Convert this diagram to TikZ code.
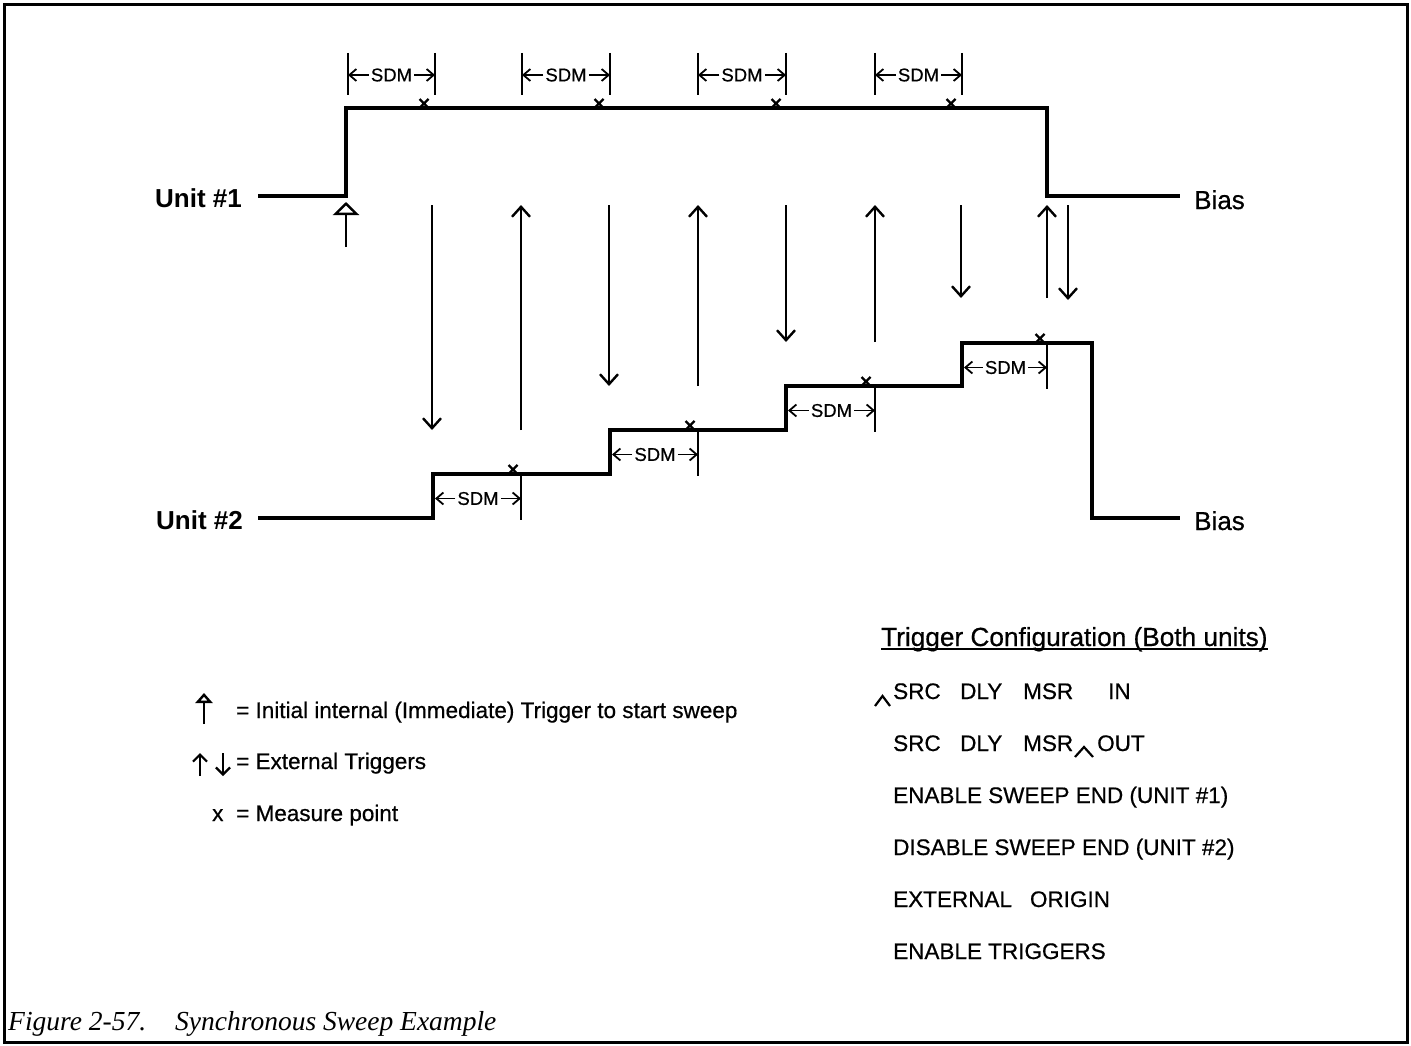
\documentclass[tikz,border=0pt]{standalone}
\usepackage{fontspec}
\setmainfont{Liberation Sans}
\newfontfamily\medfont{Liberation Sans}[FakeBold=0.6]
\newfontfamily\capfont{Liberation Serif}
\usetikzlibrary{arrows.meta}

\tikzset{
  wave/.style={line width=4pt, line join=miter},
  sdmbar/.style={line width=1.8pt},
  sdmarrow/.style={line width=1.8pt, -{Straight Barb[length=7pt,width=12pt]}},
  trig/.style={line width=2.4pt, -{Straight Barb[length=10pt,width=18pt]}},
  inittrig/.style={line width=2.4pt, -{Triangle[open,length=13pt,width=26pt]}},
  legtrig/.style={line width=2.2pt, -{Straight Barb[length=7pt,width=14pt]}},
  leginit/.style={line width=2.4pt, -{Triangle[open,length=10pt,width=17pt]}},
  xmark/.style={line width=2.2pt},
  sdmlabel/.style={font=\fontsize{18.5}{20}\selectfont\medfont, inner sep=2pt},
  unitlabel/.style={font=\fontsize{26}{30}\selectfont\bfseries, inner sep=0pt, anchor=base west},
  biaslabel/.style={font=\fontsize{26}{30}\selectfont\medfont, inner sep=0pt, anchor=base west},
  legtext/.style={font=\fontsize{22.5}{26}\selectfont\medfont, inner sep=0pt, anchor=base west},
  captext/.style={font=\fontsize{27.5}{30}\selectfont\capfont\itshape, inner sep=0pt, anchor=base west}
}

\begin{document}
\begin{tikzpicture}[x=1pt,y=-1pt]
    \useasboundingbox (0,0) rectangle (1411,1046);
    % frame
    \draw[line width=3pt] (4.5,4.5) rectangle (1407,1042);

    % Unit #1 and Unit #2 waveforms
    \node[unitlabel] (unit1) at (155,207) {Unit \#1};
    \node[unitlabel] (unit2) at (156,529) {Unit \#2};
    \node[biaslabel] (bias1) at (1194,209) {Bias};
    \node[biaslabel] (bias2) at (1194,530) {Bias};

    \draw[wave] (258,196) -- (346,196) -- (346,108) -- (1047,108) -- (1047,196) -- (1180,196);
    \draw[wave] (258,518) -- (433,518) -- (433,474) -- (610,474) -- (610,430)
        -- (786,430) -- (786,386) -- (962,386) -- (962,343) -- (1092,343)
        -- (1092,518) -- (1180,518);

    % SDM intervals on Unit #1
    \foreach [count=\i] \a/\b in {348/435, 522/610, 698/786, 875/962} {
        \draw[sdmbar] (\a,53) -- (\a,95);
        \draw[sdmbar] (\b,53) -- (\b,95);
        \node[sdmlabel] (sdmtop\i) at ({(\a+\b)/2},75) {SDM};
        \draw[sdmarrow] (sdmtop\i.west) -- (\a,75);
        \draw[sdmarrow] (sdmtop\i.east) -- (\b,75);
    }

    % SDM intervals on Unit #2
    \foreach [count=\i] \a/\b/\y in {435/521/474, 612/698/430, 788/875/386, 964/1047/343} {
        \draw[sdmbar] (\b,\y) -- (\b,\y+46);
        \node[sdmlabel] (sdmbot\i) at ({(\a+\b)/2},\y+24.5) {SDM};
        \draw[sdmarrow] (sdmbot\i.west) -- (\a,\y+24.5);
        \draw[sdmarrow] (sdmbot\i.east) -- (\b,\y+24.5);
    }

    % measure points
    \foreach \x/\y in {424/108, 599/108, 776/108, 951/108,
                       513/474, 690/430, 866/386, 1040/343}
        \draw[xmark] (\x-4.5,\y-9) -- (\x+4.5,\y) (\x-4.5,\y) -- (\x+4.5,\y-9);

    % initial trigger
    \coordinate (init0) at (346,247);
    \coordinate (init1) at (346,202);
    \draw[inittrig] (init0) -- (init1);

    % external triggers, Unit #1 to Unit #2
    \foreach [count=\i] \x/\y in {432/430, 609/386, 786/342, 961/298, 1068/300} {
        \coordinate (dntop\i) at (\x,205);
        \coordinate (dnbot\i) at (\x,\y);
        \draw[trig] (dntop\i) -- (dnbot\i);
    }
    % external triggers, Unit #2 to Unit #1
    \foreach [count=\i] \x/\y in {521/430, 698/386, 875/342, 1047/298} {
        \coordinate (upbot\i) at (\x,\y);
        \coordinate (uptop\i) at (\x,205);
        \draw[trig] (upbot\i) -- (uptop\i);
    }

    % legend
    \coordinate (leg0) at (204,724);
    \coordinate (leg1) at (204,693);
    \draw[leginit] (leg0) -- (leg1);
    \node[legtext] (leginit) at (236,718) {= Initial internal (Immediate) Trigger to start sweep};
    \coordinate (legup0) at (200,776);
    \coordinate (legup1) at (200,753);
    \coordinate (legdn0) at (223,753);
    \coordinate (legdn1) at (223,776);
    \draw[legtrig] (legup0) -- (legup1);
    \draw[legtrig] (legdn0) -- (legdn1);
    \node[legtext] (legext) at (236,769) {= External Triggers};
    \node[legtext] (legx) at (212,821) {x};
    \node[legtext] (legmeas) at (236,821) {= Measure point};

    % trigger configuration
    \node[legtext, font=\fontsize{26.2}{30}\selectfont\medfont] (trigcfg) at (881,646) {Trigger Configuration (Both units)};
    \draw[line width=2.2pt] ([yshift=-3pt]trigcfg.base west) -- ([yshift=-3pt]trigcfg.base east);

    \node[legtext] (src1) at (893,699) {SRC};
    \node[legtext] (dly1) at (960,699) {DLY};
    \node[legtext] (msr1) at (1023,699) {MSR};
    \node[legtext] (in1) at (1108,699) {IN};
    \draw[line width=2.2pt] (875,706) -- (882.5,696) -- (890,706);

    \node[legtext] (src2) at (893,751) {SRC};
    \node[legtext] (dly2) at (960,751) {DLY};
    \node[legtext] (msr2) at (1023,751) {MSR};
    \node[legtext] (out2) at (1097,751) {OUT};
    \draw[line width=2.2pt] (1075,757) -- (1084,747) -- (1093,757);

    \node[legtext] (cfg3) at (893,803) {ENABLE SWEEP END (UNIT \#1)};
    \node[legtext] (cfg4) at (893,855) {DISABLE SWEEP END (UNIT \#2)};
    \node[legtext] (cfg5) at (893,907) {EXTERNAL\hspace{18pt}ORIGIN};
    \node[legtext] (cfg6) at (893,959) {ENABLE TRIGGERS};

    % caption
    \node[captext] (capnum) at (8,1030) {Figure 2-57.};
    \node[captext] (captitle) at (175,1030) {Synchronous Sweep Example};
\end{tikzpicture}
\end{document}
